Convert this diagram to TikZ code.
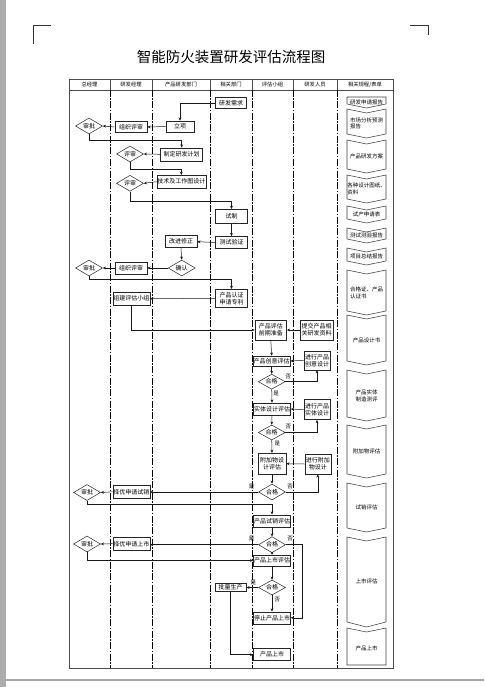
\documentclass[tikz,border=0pt]{standalone}
\usepackage{fontspec}
\newfontfamily\cjk{Noto Sans CJK SC}
\usetikzlibrary{arrows.meta,shapes.geometric}
\tikzset{
  box/.style={draw=black!85, line width=0.55pt, fill=white, inner sep=0.5pt,
    font=\cjk\fontsize{6}{7}\selectfont, align=center},
  dia/.style={diamond, draw=black!85, line width=0.5pt, fill=white, aspect=1.7, inner sep=0pt,
    minimum width=27pt, minimum height=16pt, font=\cjk\fontsize{6}{7}\selectfont},
  arr/.style={-{Stealth[length=3.2pt,width=2.8pt]}, line width=0.5pt, draw=black!90},
  lab/.style={font=\cjk\fontsize{5.5}{6}\selectfont, inner sep=0.3pt},
  hdr/.style={font=\cjk\fontsize{5.3}{6}\selectfont, inner sep=0pt},
  frame/.style={draw=black!70, line width=0.5pt},
  lane/.style={draw=black, line width=0.9pt, dash pattern=on 7pt off 1.5pt on 1.5pt off 1.5pt},
  docsty/.style={draw=black!75, line width=0.55pt, fill=white},
  doctext/.style={font=\cjk\fontsize{5.5}{6.8}\selectfont, inner sep=0pt}
}
\newcommand{\docbox}[7]{%
  \draw[docsty] (347,#2) -- (366.5,#2+#4) -- (386,#2) -- (386,#3) -- (366.5,#3+#5) -- (347,#3) -- cycle;
  \node[doctext,#7] (#1) at (366.5,{(#2+#3)/2+2}) {#6};
}
\begin{document}
\begin{tikzpicture}[x=1pt,y=-1pt]
\useasboundingbox (0,0) rectangle (484,687);
\fill[white] (0,0) rectangle (484,687);
% page edges
\fill[gray!65] (0,0) rectangle (6,687);
\draw[gray!70, line width=2pt] (6,680) -- (484,680);
% corner marks
\draw[black!80, line width=0.6pt] (51,25) -- (33,25) -- (33,44);
\draw[black!80, line width=0.6pt] (410,25) -- (428,25) -- (428,35);
% title
\node[font=\cjk\fontsize{14.5}{16}\selectfont, inner sep=0pt] (title) at (231,57) {智能防火装置研发评估流程图};
% table frame
\draw[frame] (69,79) rectangle (393,668);
\draw[frame] (69,90) -- (393,90);
\foreach \x in {110,152,210,252,293,337} {
  \draw[frame] (\x,79) -- (\x,90);
  \draw[lane] (\x,90) -- (\x,668);
}
\node[hdr] (h1) at (89.5,84.5) {总经理};
\node[hdr] (h2) at (131,84.5) {研发经理};
\node[hdr] (h3) at (181,84.5) {产品研发部门};
\node[hdr] (h4) at (231,84.5) {相关部门};
\node[hdr] (h5) at (272.5,84.5) {评估小组};
\node[hdr] (h6) at (315,84.5) {研发人员};
\node[hdr] (h7) at (365,84.5) {相关规程/表单};

% right column documents
\docbox{d1}{97}{104}{0}{4}{研发申请报告}{}
\docbox{d2}{109}{134}{4}{4}{市场分析预测\\报告}{align=left}
\docbox{d3}{140}{169}{4}{4}{产品研发方案}{}
\docbox{d4}{175}{199}{4}{4}{各种设计图纸、\\资料}{align=left}
\docbox{d5}{206}{219}{4}{4}{试产申请表}{}
\docbox{d6}{228}{239}{4}{4}{测试测验报告}{}
\docbox{d7}{248}{261}{4}{4}{项目总结报告}{}
\docbox{d8}{270}{311}{4}{4}{合格证、产品\\认证书}{align=left}
\docbox{d9}{315}{361}{4}{4}{产品设计书}{}
\docbox{d10}{370}{417}{4}{4}{产品实体\\制造测评}{align=center}
\docbox{d11}{425}{474}{4}{4}{附加物评估}{}
\docbox{d12}{483}{528}{4}{4}{试销评估}{}
\docbox{d13}{537}{622}{4}{5}{上市评估}{}
\docbox{d14}{628}{665}{4}{0}{产品上市}{}

% nodes
\node[box, minimum width=31pt, minimum height=11pt] (n1) at (231,103) {研发需求};
\node[box, minimum width=28pt, minimum height=11pt] (n2) at (180,126.5) {立项};
\node[box, minimum width=32pt, minimum height=11pt] (n3) at (131,127) {组织评审};
\node[dia] (n4) at (89,126) {审批};
\node[box, minimum width=42pt, minimum height=13pt] (n5) at (181.7,154.3) {制定研发计划};
\node[dia] (n6) at (130,154) {评审};
\node[box, minimum width=49pt, minimum height=13pt] (n7) at (181.3,181.7) {技术及工作图设计};
\node[dia] (n8) at (130,183.3) {评审};
\node[box, minimum width=31.6pt, minimum height=14pt] (n9) at (231.5,216.3) {试制};
\node[box, minimum width=31.6pt, minimum height=12pt] (n10) at (231.5,242.5) {测试验证};
\node[box, minimum width=32pt, minimum height=12pt] (n11) at (181,241.7) {改进修正};
\node[dia] (n12) at (181.7,268) {确认};
\node[box, minimum width=32pt, minimum height=12pt] (n13) at (131,268) {组织评审};
\node[dia] (n14) at (89,268) {审批};
\node[box, minimum width=31.6pt, minimum height=18pt] (n15) at (231.5,298.3) {产品认证\\申请专利};
\node[box, minimum width=37pt, minimum height=13pt] (n16) at (131.3,298.7) {组建评估小组};
\node[box, minimum width=31.7pt, minimum height=20pt] (n17) at (270.8,330) {产品评估\\前期准备};
\node[box, minimum width=33pt, minimum height=20pt] (n18) at (316.7,330) {提交产品相\\关研发资料};
\node[box, minimum width=36.7pt, minimum height=10pt] (n19) at (271.7,361) {产品创意评估};
\node[box, minimum width=26pt, minimum height=19pt] (n20) at (317,360.3) {进行产品\\创意设计};
\node[dia, minimum height=15pt] (n21) at (271.7,381.7) {合格};
\node[box, minimum width=37pt, minimum height=12pt] (n22) at (272,409) {实体设计评估};
\node[box, minimum width=26pt, minimum height=20pt] (n23) at (317,409.7) {进行产品\\实体设计};
\node[dia, minimum height=15pt] (n24) at (271.7,432.5) {合格};
\node[box, minimum width=28pt, minimum height=21pt] (n25) at (272,463.7) {附加物设\\计评估};
\node[box, minimum width=26pt, minimum height=20pt] (n26) at (317.8,464) {进行附加\\物设计};
\node[dia] (n27) at (272,492) {合格};
\node[box, minimum width=37pt, minimum height=13pt] (n28) at (131.3,491.8) {择优申请试销};
\node[dia] (n29) at (87,492.5) {审批};
\node[box, minimum width=37pt, minimum height=12pt] (n30) at (272,520.8) {产品试销评估};
\node[dia] (n31) at (272,544.7) {合格};
\node[box, minimum width=37pt, minimum height=13pt] (n32) at (131.3,543.7) {择优申请上市};
\node[dia] (n33) at (87,544) {审批};
\node[box, minimum width=37pt, minimum height=11pt] (n34) at (272,560.5) {产品上市评估};
\node[dia, minimum height=15pt] (n35) at (272,587.5) {合格};
\node[box, minimum width=31pt, minimum height=8.5pt] (n36) at (230.5,587.5) {批量生产};
\node[box, minimum width=37pt, minimum height=12pt] (n37) at (272,617.8) {停止产品上市};
\node[box, minimum width=37pt, minimum height=12pt] (n38) at (272,654.7) {产品上市};

\coordinate (c1) at (302.7,0);

% connectors
\draw[arr] (n1.west) -| (n2.north);
\draw[arr] (n2.west) -- (n3.east);
\draw[arr] (n3.west) -- (n4.east);
\draw[arr] (n4.south) -- ++(0,6) -| (n5.north);
\draw[arr] (n5.west) -- (n6.east);
\draw[arr] (n6.south) -- ++(0,7.3) -| (n7.north);
\draw[arr] (n7.west) -- (n8.east);
\draw[arr] (n8.south) -- ++(0,9.5) -| (n9.north);
\draw[arr] (n9.south) -- (n10.north);
\draw[arr] (n10.west) -- (n11.east);
\draw[arr] (n11.south) -- (n12.north);
\draw[arr] (n12.west) -- (n13.east);
\draw[arr] (n13.west) -- (n14.east);
\draw[arr] (n14.south) -- ++(0,3) -| (n15.north);
\draw[arr] (n15.west) -- (n16.east);
\draw[arr] (n16.south) |- (n17.west);
\draw[arr] (n18.west) -- (n17.east);
\draw[arr] (n17.south) -- (n19.north);
\draw[arr] (n20.west) -- (n19.east);
\draw[arr] (n19.south) -- (n21.north);
\draw[arr] (n21.east) -| (n20.south);
\draw[arr] (n21.south) -- (n22.north);
\draw[arr] (n23.west) -- (n22.east);
\draw[arr] (n22.south) -- (n24.north);
\draw[arr] (n24.east) -| (n23.south);
\draw[arr] (n24.south) -- (n25.north);
\draw[arr] (n26.west) -- (n25.east);
\draw[arr] (n25.south) -- (n27.north);
\draw[arr] (n27.east) -| (n26.south);
\draw[arr] (n27.west) -- (n27.west -| n28.east);
\draw[arr] (n28.west) -- (n29.east);
\draw[arr] (n29.south) -- ++(0,3.5) -| (n30.north);
\draw[arr] (n30.south) -- (n31.north);
\draw[arr] (n31.west) -- (n31.west -| n32.east);
\draw[arr] (n32.west) -- (n33.east);
\draw[arr] (n33.south) |- (n34.west);
\draw[arr] (n31.east) -| (c1 |- n37.east) -- (n37.east);
\draw[arr] (n31.south) -- (n34.north);
\draw[arr] (n34.south) -- (n35.north);
\draw[arr] (n35.west) -- (n36.east);
\draw[arr] (n35.south) -- (n37.north);
\draw[arr] (n36.south) |- (n38.west);

% yes/no labels
\node[lab] (l1) at (288.3,376.7) {否};
\node[lab] (l2) at (276,393.3) {是};
\node[lab] (l3) at (288.3,427) {否};
\node[lab] (l4) at (277.3,443.3) {是};
\node[lab] (l5) at (251.7,486.7) {是};
\node[lab] (l6) at (290,486.7) {否};
\node[lab] (l7) at (251.7,538.3) {是};
\node[lab] (l8) at (290,538.3) {否};
\node[lab] (l9) at (253.3,582.3) {是};
\node[lab] (l10) at (277.3,599.3) {否};
\end{tikzpicture}
\end{document}
